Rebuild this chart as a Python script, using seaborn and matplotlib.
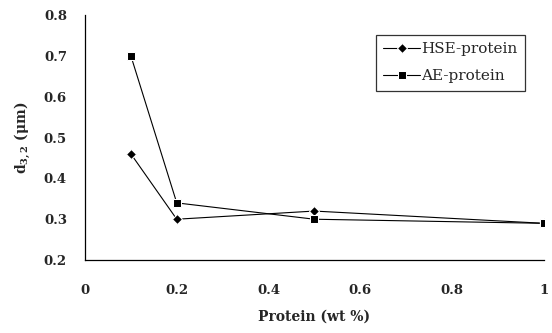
import matplotlib
matplotlib.use("Agg")
import matplotlib.pyplot as plt
import seaborn as sns
import pandas as pd

protein = [0.1, 0.2, 0.5, 1.0]
hse_protein = [0.46, 0.30, 0.32, 0.29]
ae_protein = [0.70, 0.34, 0.30, 0.29]
x_ticks = [0, 0.2, 0.4, 0.6, 0.8, 1]
y_ticks = [0.2, 0.3, 0.4, 0.5, 0.6, 0.7, 0.8]

sns.set_theme(style="white")
plt.rcParams['font.family'] = ['DejaVu Serif', 'Liberation Serif']
plt.rcParams['mathtext.default'] = 'regular'

df = pd.DataFrame({
    "Protein": protein * 2,
    "d32": hse_protein + ae_protein,
    "Series": ["HSE-protein"] * len(protein) + ["AE-protein"] * len(protein),
})

fig = plt.figure(figsize=(5.52, 3.33), dpi=100)
ax = fig.add_axes([0.154, 0.219, 0.831, 0.736])

sns.lineplot(data=df, x="Protein", y="d32", hue="Series", style="Series",
             markers={"HSE-protein": "D", "AE-protein": "s"}, dashes=False,
             palette={"HSE-protein": "black", "AE-protein": "black"},
             markersize=5, linewidth=0.8, ax=ax, legend=True)
for line in ax.lines:
    if line.get_marker() == "D":
        line.set_markersize(5.5)
    else:
        line.set_markersize(6)

ax.set_xlim(0, 1)
ax.set_ylim(0.2, 0.8)
ax.set_xticks(x_ticks)
ax.set_xticklabels(["0", "0.2", "0.4", "0.6", "0.8", "1"])
ax.set_yticks(y_ticks)
ax.set_yticklabels([f"{v:.1f}" for v in y_ticks])
for lbl in ax.get_xticklabels() + ax.get_yticklabels():
    lbl.set_fontweight("bold")
    lbl.set_fontsize(9.5)
ax.tick_params(axis="both", direction="out", length=5, width=0.8, color="black")
ax.tick_params(axis="y", pad=8)
ax.tick_params(axis="x", pad=12)
sns.despine(ax=ax)
for s in ["left", "bottom"]:
    ax.spines[s].set_color("black")
    ax.spines[s].set_linewidth(0.9)

ax.set_xlabel("Protein (wt %)", fontsize=10, fontweight="bold", labelpad=9)
ax.set_ylabel("d$_{3,2}$ (μm)", fontsize=10, fontweight="bold", labelpad=8)

leg = ax.legend(loc="upper right", bbox_to_anchor=(0.96, 0.92), borderaxespad=0,
                frameon=True, fancybox=False, edgecolor="black", fontsize=11,
                handlelength=2.4, borderpad=0.5, labelspacing=0.85, handletextpad=0.1)
leg.get_frame().set_linewidth(0.9)
for h in leg.get_lines():
    h.set_linewidth(0.8)

fig.savefig("out.png", dpi=100)
